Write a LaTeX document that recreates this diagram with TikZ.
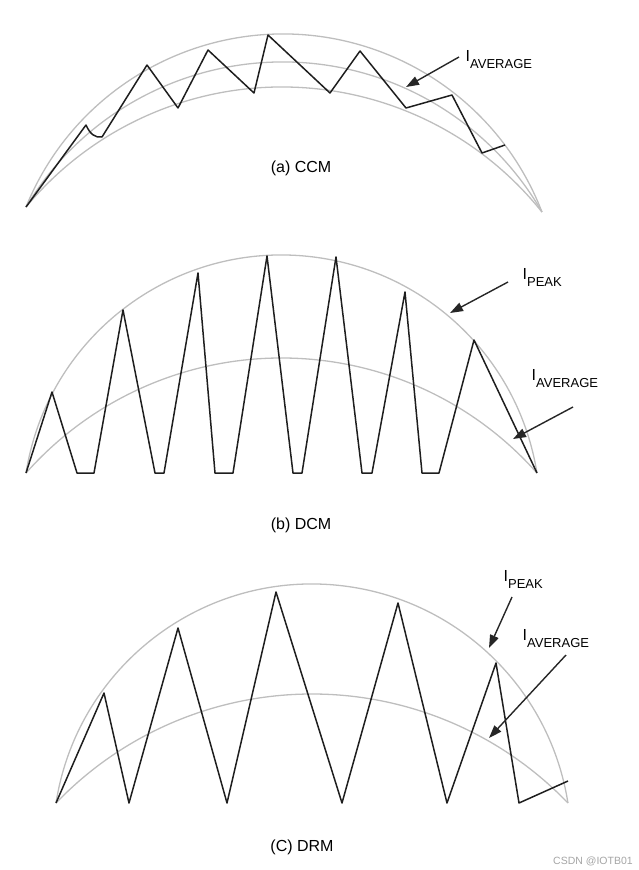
\documentclass[tikz,border=0pt]{standalone}
\usepackage{fontspec}
\setmainfont{Liberation Sans}
\usetikzlibrary{arrows.meta}
\definecolor{arcgray}{RGB}{190,190,190}
\definecolor{wavegray}{RGB}{30,30,30}
\definecolor{markgray}{RGB}{165,165,165}
\newcommand{\curr}[1]{I\raisebox{-7pt}{\fontsize{13}{13}\selectfont #1}}

\begin{document}
\begin{tikzpicture}[
    x=1pt, y=-1pt,
    envelope/.style={draw=arcgray, line width=1.3pt},
    wave/.style={draw=wavegray, line width=1.5pt, line join=round},
    pointer/.style={-{Triangle[length=13pt, width=9pt]}, line width=1.4pt, draw=black!85},
    caption/.style={anchor=base, inner sep=0pt, font=\fontsize{16}{16}\selectfont},
    curlabel/.style={anchor=base west, inner sep=0pt, font=\fontsize{16}{16}\selectfont}
]
\useasboundingbox (0,0) rectangle (638,870);

% (a) CCM
\draw[envelope] (26,207) arc[start angle=-157.89, end angle=-20.99, radius=277.4];
\draw[envelope] (26,207) arc[start angle=-148.96, end angle=-29.93, radius=299.4];
\draw[envelope] (26,207) arc[start angle=-140.25, end angle=-38.64, radius=332.9];
\draw[wave] (26,207) -- (86,125) .. controls (90,134) and (95,138) .. (102,137)
    -- (147,65) -- (178,108) -- (208,50) -- (254,93) -- (268,35) -- (330,93)
    -- (360,51) -- (406,108) -- (452,95) -- (482,153) -- (505,145);
\node[caption] (capA) at (301,172) {(a) CCM};
\node[curlabel] (avgA) at (465.5,61) {\curr{AVERAGE}};
\coordinate (avgA-tail) at (459,57);
\coordinate (avgA-tip) at (406,87);
\draw[pointer] (avgA-tail) -- (avgA-tip);

% (b) DCM
\draw[envelope] (26,473) arc[start angle=-170.95, end angle=-9.05, radius=258.7];
\draw[envelope] (26,473) arc[start angle=-138.47, end angle=-41.53, radius=341.3];
\draw[wave] (26,473) -- (52,392) -- (77,473) -- (94,473) -- (123,310) -- (155,473)
    -- (164,473) -- (198,273) -- (215,473) -- (233,473) -- (267,256) -- (293,473)
    -- (302,473) -- (336,257) -- (362,473) -- (372,473) -- (405,292) -- (422,473)
    -- (439,473) -- (474,340) -- (537,473);
\node[caption] (capB) at (301,529) {(b) DCM};
\node[curlabel] (peakB) at (522.5,279) {\curr{PEAK}};
\node[curlabel] (avgB) at (531.5,380) {\curr{AVERAGE}};
\coordinate (peakB-tail) at (508,282);
\coordinate (peakB-tip) at (450,313);
\coordinate (avgB-tail) at (573,407);
\coordinate (avgB-tip) at (513,439);
\draw[pointer] (peakB-tail) -- (peakB-tip);
\draw[pointer] (avgB-tail) -- (avgB-tip);

% (C) DRM
\draw[envelope] (56,803) arc[start angle=-171.1, end angle=-8.9, radius=259.1];
\draw[envelope] (56,803) arc[start angle=-136.13, end angle=-43.87, radius=355.1];
\draw[wave] (56,803) -- (104,693) -- (129,803) -- (178,628) -- (227,803) -- (276,592)
    -- (342,803) -- (398,603) -- (447,803) -- (496,663) -- (519,803) -- (568,781);
\node[caption] (capC) at (302,851) {(C) DRM};
\node[curlabel] (peakC) at (503.5,581) {\curr{PEAK}};
\node[curlabel] (avgC) at (522.5,640) {\curr{AVERAGE}};
\coordinate (peakC-tail) at (512,597);
\coordinate (peakC-tip) at (489,648);
\coordinate (avgC-tail) at (566,655);
\coordinate (avgC-tip) at (489,738);
\draw[pointer] (peakC-tail) -- (peakC-tip);
\draw[pointer] (avgC-tail) -- (avgC-tip);

\node[anchor=base west, inner sep=0pt, text=markgray, font=\fontsize{10.5}{10.5}\selectfont] (mark) at (553,864) {CSDN @IOTB01};
\end{tikzpicture}
\end{document}
